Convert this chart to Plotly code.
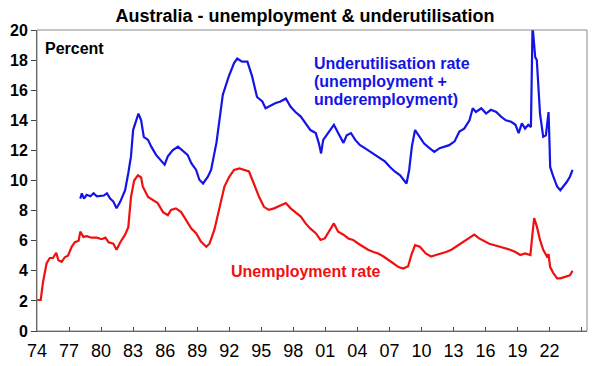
import plotly.graph_objects as go

# ---- Data ----
unemp_years = [1974.0, 1974.35, 1974.55, 1974.75, 1974.9, 1975.2, 1975.5, 1975.8, 1976.0, 1976.3,
               1976.6, 1976.9, 1977.25, 1977.55, 1977.9, 1978.05, 1978.35, 1978.65, 1979.1, 1979.6,
               1980.05, 1980.4, 1980.7, 1981.15, 1981.45, 1981.8, 1982.25, 1982.55, 1982.8, 1983.1,
               1983.45, 1983.75, 1983.9, 1984.4, 1984.85, 1985.3, 1985.8, 1986.25, 1986.55, 1987.0,
               1987.5, 1987.95, 1988.45, 1988.9, 1989.35, 1989.85, 1990.15, 1990.6, 1991.1, 1991.55,
               1992.0, 1992.45, 1992.95, 1993.4, 1993.85, 1994.3, 1994.8, 1995.25, 1995.7, 1996.2,
               1996.8, 1997.3, 1997.75, 1998.2, 1998.7, 1999.15, 1999.6, 2000.1, 2000.55, 2000.95,
               2001.4, 2001.8, 2002.2, 2002.7, 2003.15, 2003.6, 2004.1, 2004.55, 2005.0, 2005.5,
               2005.95, 2006.45, 2006.9, 2007.35, 2007.85, 2008.3, 2008.75, 2009.1, 2009.4, 2009.85,
               2010.4, 2010.9, 2011.35, 2011.85, 2012.3, 2012.8, 2013.25, 2013.7, 2014.2, 2014.65,
               2014.95, 2015.4, 2015.9, 2016.35, 2016.85, 2017.35, 2017.85, 2018.3, 2018.8, 2019.25,
               2019.7, 2020.2, 2020.4, 2020.55, 2020.8, 2021.1, 2021.4, 2021.75, 2021.9, 2022.05,
               2022.35, 2022.7, 2023.0, 2023.3, 2023.6, 2023.9, 2024.15]
unemp_rate = [2.06, 2.06, 3.2, 3.85, 4.5, 4.85, 4.85, 5.2, 4.7, 4.6,
              4.9, 5.0, 5.6, 5.9, 6.0, 6.6, 6.25, 6.3, 6.2, 6.2,
              6.1, 6.2, 5.9, 5.8, 5.4, 5.9, 6.4, 6.9, 8.9, 10.0,
              10.35, 10.2, 9.6, 8.9, 8.7, 8.5, 7.9, 7.7, 8.05, 8.15,
              7.9, 7.4, 6.8, 6.5, 5.95, 5.6, 5.8, 6.7, 8.3, 9.6,
              10.25, 10.7, 10.8, 10.7, 10.6, 9.8, 8.9, 8.25, 8.05, 8.15,
              8.35, 8.5, 8.15, 7.9, 7.6, 7.15, 6.8, 6.5, 6.05, 6.15,
              6.7, 7.15, 6.6, 6.4, 6.15, 6.05, 5.8, 5.6, 5.4, 5.25,
              5.15, 4.95, 4.7, 4.5, 4.25, 4.15, 4.3, 5.15, 5.7, 5.6,
              5.15, 4.95, 5.05, 5.15, 5.25, 5.4, 5.6, 5.8, 6.05, 6.25,
              6.4, 6.15, 5.95, 5.8, 5.7, 5.6, 5.5, 5.4, 5.25, 5.05,
              5.15, 5.05, 6.5, 7.5, 6.95, 6.05, 5.4, 4.95, 5.1, 4.25,
              3.85, 3.5, 3.5, 3.55, 3.6, 3.7, 4.0]

under_years = [1978.05, 1978.2, 1978.4, 1978.65, 1979.0, 1979.3, 1979.6, 1979.95, 1980.25, 1980.55,
               1980.85, 1981.15, 1981.45, 1981.8, 1982.25, 1982.55, 1982.8, 1983.0, 1983.3, 1983.5,
               1983.75, 1984.0, 1984.4, 1984.7, 1985.15, 1985.6, 1985.95, 1986.25, 1986.7, 1987.2,
               1987.65, 1988.1, 1988.45, 1988.9, 1989.2, 1989.55, 1990.0, 1990.3, 1990.8, 1991.25,
               1991.4, 1991.95, 1992.45, 1992.75, 1993.2, 1993.7, 1994.15, 1994.6, 1995.1, 1995.4,
               1995.9, 1996.35, 1996.8, 1997.3, 1997.75, 1998.2, 1998.7, 1999.15, 1999.6, 2000.1,
               2000.4, 2000.6, 2000.8, 2001.1, 2001.45, 2001.8, 2002.2, 2002.7, 2003.0, 2003.4,
               2003.8, 2004.25, 2004.7, 2005.2, 2005.65, 2006.1, 2006.6, 2007.05, 2007.5, 2008.0,
               2008.3, 2008.6, 2008.85, 2009.1, 2009.4, 2009.8, 2010.25, 2010.75, 2011.2, 2011.7,
               2012.15, 2012.6, 2013.1, 2013.55, 2014.0, 2014.5, 2014.8, 2015.1, 2015.6, 2016.05,
               2016.5, 2017.0, 2017.45, 2017.9, 2018.4, 2018.8, 2019.1, 2019.4, 2019.7, 2020.0,
               2020.25, 2020.4, 2020.65, 2020.8, 2021.1, 2021.4, 2021.65, 2021.9, 2022.0, 2022.05,
               2022.35, 2022.7, 2023.0, 2023.3, 2023.6, 2023.9, 2024.15]
under_rate = [8.8, 9.15, 8.8, 9.05, 8.95, 9.15, 8.95, 8.95, 9.0, 9.15,
              8.8, 8.6, 8.15, 8.6, 9.35, 10.5, 11.6, 13.35, 14.0, 14.45,
              14.0, 12.9, 12.7, 12.25, 11.7, 11.35, 11.05, 11.6, 12.0, 12.25,
              12.0, 11.7, 11.15, 10.7, 10.05, 9.8, 10.25, 10.7, 12.5, 14.9,
              15.7, 16.9, 17.8, 18.1, 17.9, 17.9, 16.9, 15.55, 15.25, 14.8,
              15.0, 15.15, 15.25, 15.45, 14.9, 14.55, 14.25, 13.8, 13.35, 13.15,
              12.45, 11.8, 12.7, 13.0, 13.35, 13.7, 13.15, 12.5, 13.0, 13.15,
              12.7, 12.35, 12.15, 11.9, 11.7, 11.5, 11.25, 10.9, 10.6, 10.35,
              10.05, 9.8, 10.7, 12.25, 13.35, 12.9, 12.45, 12.15, 11.9, 12.15,
              12.25, 12.35, 12.6, 13.25, 13.45, 14.0, 14.8, 14.55, 14.8, 14.45,
              14.7, 14.55, 14.25, 14.0, 13.9, 13.7, 13.15, 13.8, 13.45, 13.7,
              13.55, 20.3, 18.2, 18.0, 14.45, 12.9, 13.0, 14.55, 12.25, 10.9,
              10.25, 9.6, 9.35, 9.6, 9.9, 10.25, 10.7]

x_tick_years = [1974, 1977, 1980, 1983, 1986, 1989, 1992, 1995, 1998, 2001, 2004, 2007,
                2010, 2013, 2016, 2019, 2022, 2025]
x_tick_labels = ["74", "77", "80", "83", "86", "89", "92", "95", "98", "01", "04", "07",
                 "10", "13", "16", "19", "22", ""]
y_ticks = [0, 2, 4, 6, 8, 10, 12, 14, 16, 18, 20]

title_text = "Australia - unemployment & underutilisation"
unit_label = "Percent"
under_label_lines = ["Underutilisation rate", "(unemployment +", "underemployment)"]
unemp_label = "Unemployment rate"

BLUE = "#1414E6"
RED = "#F01010"
FONT = "Liberation Sans, Arial, sans-serif"

W, H = 604, 366
L, R, T, B = 37, 17, 30, 35
PW, PH = W - L - R, H - T - B


def px_x(px):
    return (px - L) / PW


def px_y(py):
    return (H - B - py) / PH


fig = go.Figure()
fig.add_trace(go.Scatter(x=under_years, y=under_rate, mode="lines",
                         line=dict(color=BLUE, width=2.2), showlegend=False))
fig.add_trace(go.Scatter(x=unemp_years, y=unemp_rate, mode="lines",
                         line=dict(color=RED, width=2.2), showlegend=False))

annotations = [
    dict(text="<b>%s</b>" % unit_label, x=px_x(43), y=px_y(49), xanchor="left",
         yanchor="middle", font=dict(size=16, color="black", family=FONT)),
    dict(text="<b>%s</b>" % unemp_label, x=px_x(229), y=px_y(271), xanchor="left",
         yanchor="middle", font=dict(size=16, color=RED, family=FONT)),
]
for i, line in enumerate(under_label_lines):
    annotations.append(dict(text="<b>%s</b>" % line, x=px_x(312), y=px_y(63 + 18.5 * i),
                            xanchor="left", yanchor="middle",
                            font=dict(size=16, color=BLUE, family=FONT)))
for a in annotations:
    a.update(xref="paper", yref="paper", showarrow=False)

fig.update_layout(
    width=W, height=H,
    margin=dict(l=L, r=R, t=T, b=B, autoexpand=False),
    paper_bgcolor="white", plot_bgcolor="white",
    font=dict(family=FONT, color="black"),
    title=dict(text="<b>%s</b>" % title_text, x=305 / W, xanchor="center",
               y=1 - 16 / H, yanchor="middle", yref="container",
               font=dict(size=18, color="black", family=FONT)),
    annotations=annotations,
    shapes=[dict(type="rect", xref="paper", yref="paper", x0=0, x1=1, y0=0, y1=1,
                 line=dict(color="#8a8a8a", width=1), layer="above")],
    xaxis=dict(range=[1974, 2025.5], tickmode="array", tickvals=x_tick_years,
               ticktext=x_tick_labels, ticks="inside", ticklen=4, tickcolor="#444",
               showline=True, linecolor="#444", linewidth=1, showgrid=False,
               zeroline=False, ticklabelstandoff=3, automargin=False,
               tickfont=dict(size=18, color="black",
                             family="Liberation Sans Narrow, Arial Narrow, Liberation Sans")),
    yaxis=dict(range=[0, 20], tickmode="array", tickvals=y_ticks,
               ticktext=["<b>%d</b>" % v for v in y_ticks], ticks="outside", ticklen=5,
               tickcolor="#444", showline=True, linecolor="#444", linewidth=1,
               showgrid=False, zeroline=False, automargin=False,
               tickfont=dict(size=16, color="black", family=FONT)),
)

fig.write_html("out.html", config={"displayModeBar": False},
               post_script="document.body.style.margin='0';document.body.style.overflow='hidden';")
